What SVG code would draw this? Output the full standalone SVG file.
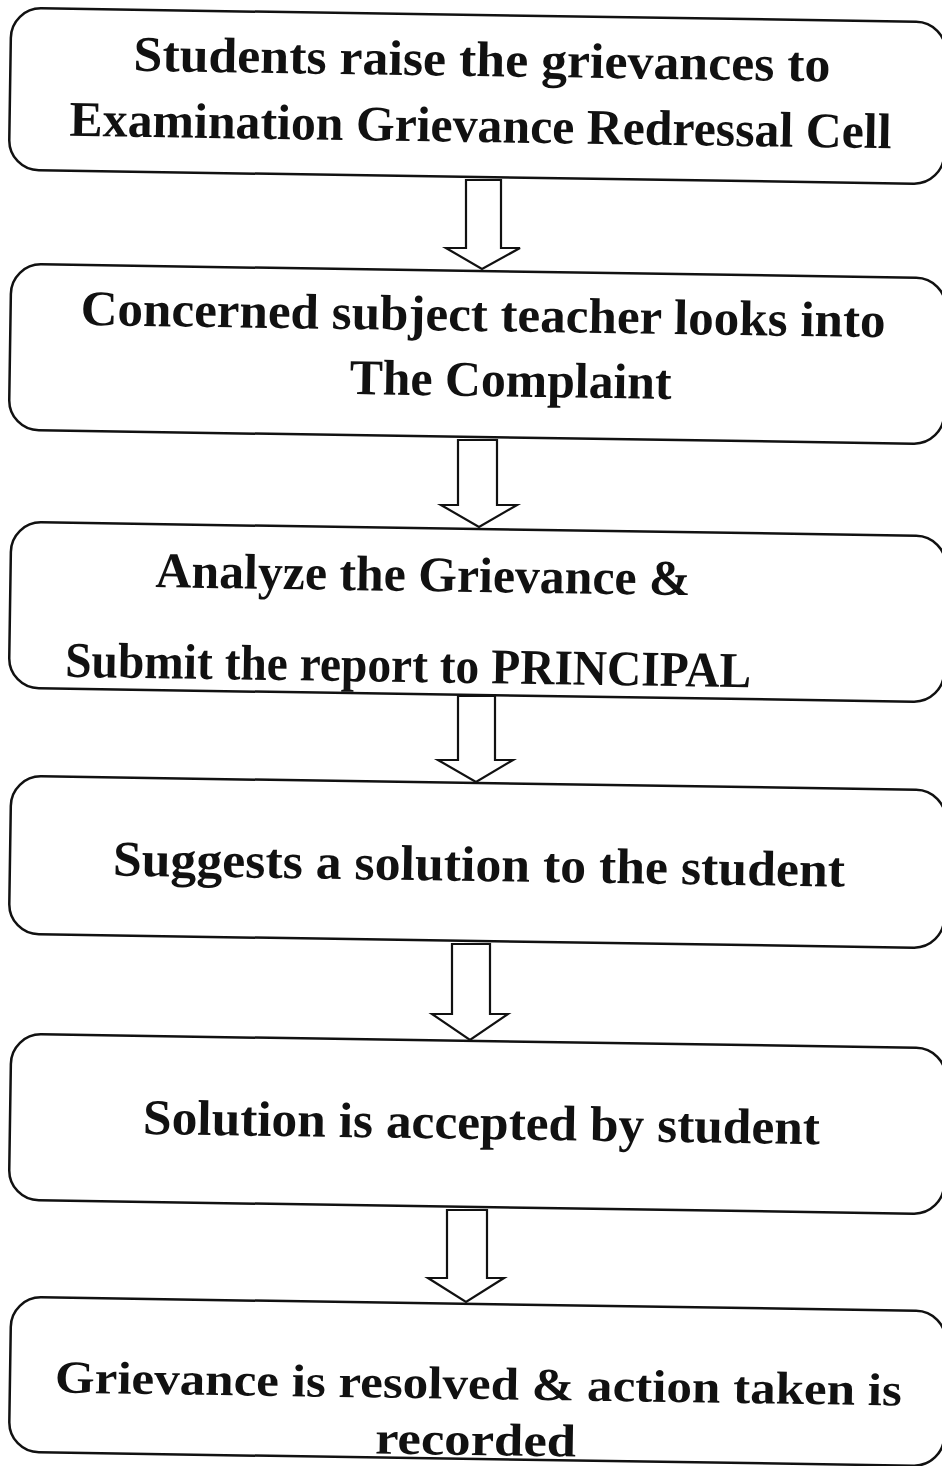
<svg xmlns="http://www.w3.org/2000/svg" width="942" height="1466" viewBox="0 0 942 1466">
<style>
.box{fill:#fff;stroke:#111;stroke-width:2.5}
.arr{fill:#fff;stroke:#111;stroke-width:2.2;stroke-linejoin:miter}
.t{font-family:"Liberation Serif","DejaVu Serif",serif;font-weight:bold;font-size:50px;fill:#111}
.s{font-size:46px}
</style>
<rect width="942" height="1466" fill="#fff"/>
<g id="node1" transform="rotate(0.87 477.5 96)">
<rect class="box" x="10" y="15" width="935" height="162" rx="30"/>
<text class="t" x="133" y="76" textLength="697" lengthAdjust="spacingAndGlyphs">Students raise the grievances to</text>
<text class="t" x="70" y="142" textLength="822" lengthAdjust="spacingAndGlyphs">Examination Grievance Redressal Cell</text>
</g>
<g id="node2" transform="rotate(0.87 477.5 354)">
<rect class="box" x="10" y="271" width="935" height="166" rx="30"/>
<text class="t" x="80" y="331" textLength="805" lengthAdjust="spacingAndGlyphs">Concerned subject teacher looks into</text>
<text class="t" x="350" y="396" textLength="322" lengthAdjust="spacingAndGlyphs">The Complaint</text>
</g>
<g id="node3" transform="rotate(0.87 477.5 612)">
<rect class="box" x="10" y="529" width="935" height="166" rx="30"/>
<text class="t" x="155" y="592" textLength="535" lengthAdjust="spacingAndGlyphs">Analyze the Grievance &amp;</text>
<text class="t" x="66" y="683" textLength="686" lengthAdjust="spacingAndGlyphs">Submit the report to PRINCIPAL</text>
</g>
<g id="node4" transform="rotate(0.87 477.5 862)">
<rect class="box" x="10" y="783" width="935" height="158" rx="30"/>
<text class="t" x="113" y="881" textLength="732" lengthAdjust="spacingAndGlyphs">Suggests a solution to the student</text>
</g>
<g id="node5" transform="rotate(0.87 477.5 1124)">
<rect class="box" x="10" y="1041" width="935" height="166" rx="30"/>
<text class="t" x="143" y="1139" textLength="677" lengthAdjust="spacingAndGlyphs">Solution is accepted by student</text>
</g>
<g id="node6" transform="rotate(0.87 477.5 1381)">
<rect class="box" x="10" y="1304" width="935" height="155" rx="30"/>
<text class="t s" x="55" y="1399" textLength="847" lengthAdjust="spacingAndGlyphs">Grievance is resolved &amp; action taken is</text>
<text class="t s" x="376" y="1455" textLength="201" lengthAdjust="spacingAndGlyphs">recorded</text>
</g>
<g id="connectors">
<polygon class="arr" points="466,180 501,180 501,248 520,248 482,269 446,248 466,248"/>
<polygon class="arr" points="458,440 497,440 497,505 517,505 479,527 441,505 458,505"/>
<polygon class="arr" points="458,696 495,696 495,760 513,760 476,782 438,760 458,760"/>
<polygon class="arr" points="452,944 490,944 490,1014 508,1014 470,1040 432,1014 452,1014"/>
<polygon class="arr" points="447,1210 487,1210 487,1278 504,1278 466,1302 428,1278 447,1278"/>
</g>
</svg>
